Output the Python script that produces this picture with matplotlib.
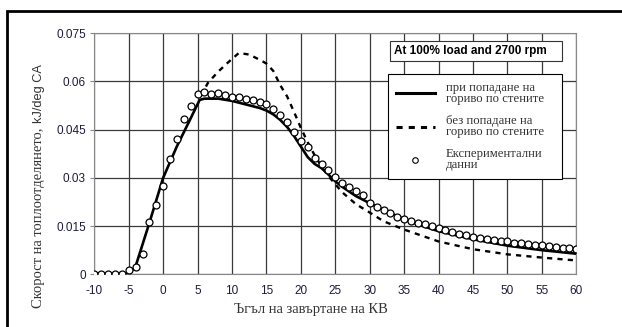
import matplotlib
matplotlib.use('Agg')
import matplotlib.pyplot as plt
from matplotlib.lines import Line2D
from matplotlib.patches import Rectangle

plt.rcParams['axes.unicode_minus'] = False

# experimental points, one per degree from -10 to 60
exp_deg = list(range(-10, 61))
exp_val = [0, 0, 0, 0, 0, 0.0013, 0.0023, 0.0063, 0.0162, 0.0216,
           0.0275, 0.0358, 0.042, 0.0483, 0.0524, 0.056, 0.0568, 0.056, 0.0562, 0.0556,
           0.0551, 0.055, 0.0546, 0.0543, 0.0537, 0.0528, 0.0514, 0.0495, 0.0472, 0.0443,
           0.0413, 0.0395, 0.0362, 0.0343, 0.0324, 0.0303, 0.0285, 0.0272, 0.0259, 0.0246,
           0.0223, 0.021, 0.0199, 0.0189, 0.0179, 0.0173, 0.0166, 0.0161, 0.0156, 0.015,
           0.0145, 0.0138, 0.0132, 0.0126, 0.0121, 0.0116, 0.0113, 0.011, 0.0108, 0.0105,
           0.0103, 0.0098, 0.0097, 0.0095, 0.0092, 0.0091, 0.0087, 0.0084, 0.0082, 0.0081,
           0.0079]

# model with wall wetting (solid)
wall_deg = [-10, -5, -4, -2, 0, 2, 4, 5.3, 6, 8, 10, 12, 14, 15, 16, 17, 18, 19, 20,
            21, 22, 23, 24, 25, 26, 28, 30, 32, 35, 38, 40, 45, 50, 55, 60]
wall_val = [0, 0, 0.0025, 0.016, 0.030, 0.0398, 0.0485, 0.0542, 0.0546, 0.0546,
            0.0539, 0.0528, 0.0517, 0.0509, 0.0497, 0.048, 0.0458, 0.043, 0.0397,
            0.0364, 0.0343, 0.033, 0.031, 0.0289, 0.0272, 0.0243, 0.0221, 0.0200,
            0.0171, 0.0148, 0.0134, 0.0109, 0.0089, 0.0075, 0.0064]

# model without wall wetting (dashed)
nowall_deg = [5.5, 6.5, 8, 9.5, 11, 12.5, 14, 15, 16, 17, 18, 19, 20, 21, 22, 23, 24,
              26, 28, 30, 32, 35, 40, 45, 50, 55, 60]
nowall_val = [0.0555, 0.0595, 0.063, 0.066, 0.0688, 0.0683, 0.0667, 0.0655, 0.0632,
              0.0588, 0.0553, 0.0505, 0.0455, 0.041, 0.037, 0.0335, 0.0305, 0.0255,
              0.0218, 0.0192, 0.0165, 0.0139, 0.0102, 0.0078, 0.0062, 0.0052, 0.0043]

xticks = list(range(-10, 61, 5))
yticks = [0, 0.015, 0.03, 0.045, 0.06, 0.075]
ytick_labels = ['0', '0.015', '0.03', '0.045', '0.06', '0.075']

W, H = 622, 327
fig = plt.figure(figsize=(W / 100, H / 100), dpi=100)
ax = fig.add_axes([94.3 / W, 1 - 274.3 / H, 482 / W, 241.3 / H])

ax.plot(wall_deg, wall_val, color='black', lw=1.9, zorder=3)
ax.plot(nowall_deg, nowall_val, color='black', lw=1.7, ls=(0, (2.2, 2.2)), zorder=3)
ax.plot(exp_deg, exp_val, ls='none', marker='o', ms=5, mfc='white', mec='black',
        mew=0.9, zorder=4)

ax.set_xlim(-10, 60)
ax.set_ylim(0, 0.075)
ax.set_xticks(xticks)
ax.set_yticks(yticks)
ax.set_yticklabels(ytick_labels)
ax.grid(True, color='#3a3a3a', lw=0.9)
ax.set_axisbelow(True)
for s in ax.spines.values():
    s.set_color('#888888')
ax.tick_params(axis='x', length=0, pad=8, labelsize=8.5, labelcolor='#1c1c3c')
ax.tick_params(axis='y', length=3, color='#888888', pad=3, labelsize=8.5,
               labelcolor='#1c1c3c')
for lab in ax.get_xticklabels() + ax.get_yticklabels():
    lab.set_family('Liberation Sans')

# legend
handles = [Line2D([], [], color='black', lw=2.2),
           Line2D([], [], color='black', lw=2.2, ls=(0, (2, 2))),
           Line2D([], [], ls='none', marker='o', ms=4, mfc='white', mec='black', mew=0.8)]
labels = ['при попадане на\nгориво по стените',
          'без попадане на\nгориво по стените',
          'Експериментални\nданни']
leg = ax.legend(handles, labels, loc='upper left',
                bbox_to_anchor=(388 / W, 1 - 74 / H, 174 / W, 0.0),
                bbox_transform=fig.transFigure, mode='expand', borderaxespad=0,
                fancybox=False, framealpha=1, edgecolor='black', handlelength=3.1,
                handletextpad=0.8, labelspacing=0.75, borderpad=0.6,
                prop={'family': 'Liberation Serif', 'size': 9.2})
leg.get_frame().set_linewidth(0.8)
for t in leg.get_texts():
    t.set_linespacing(0.95)
    t.set_color('#333333')

# title box
fig.patches.append(Rectangle((390 / W, 1 - 61 / H), 172 / W, 20 / H,
                             transform=fig.transFigure, fc='white', ec='#333333',
                             lw=0.8, zorder=5))
fig.text(394 / W, 1 - 51 / H, 'At 100% load and 2700 rpm', ha='left', va='center',
         family='Liberation Sans', weight='bold', size=8.5, zorder=6)

# outer frame, only left and top edges visible
fig.patches.append(Rectangle((7 / W, -0.2), 1.5, 1.2 - 11 / H,
                             transform=fig.transFigure, fill=False, ec='black',
                             lw=2, zorder=0))

# axis labels
fig.text(311 / W, 1 - 310 / H, 'Ъгъл на завъртане на КВ', ha='center', va='center',
         family='Liberation Serif', size=10.5, color='#333333')
t1 = fig.text(39 / W, 1 - 308 / H, 'Скорост на топлоотделянето, ', rotation=90,
              ha='center', va='bottom', family='Liberation Serif', size=10.5,
              color='#333333')
fig.canvas.draw()
bb = t1.get_window_extent()
fig.text(39 / W, bb.y1 / H + 0.003, 'kJ/deg CA', rotation=90, ha='center', va='bottom',
         family='Liberation Sans', size=9.2, color='#333333')

fig.savefig('out.png', dpi=100)
